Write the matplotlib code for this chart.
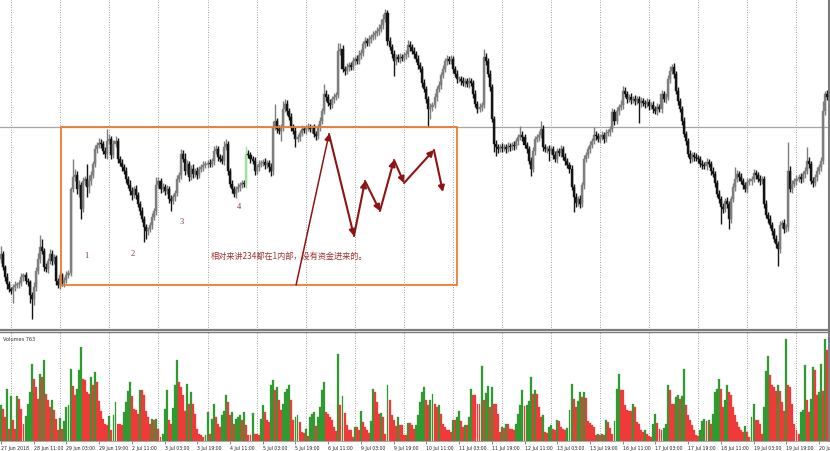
import matplotlib
matplotlib.use('Agg')
import matplotlib.pyplot as plt
from matplotlib import patches, font_manager

# H1 candles, price in points (higher = higher price)
first_open = 140
closes = [
    145, 132, 122, 115, 110, 108, 112, 114, 115, 116, 122, 124, 118, 117, 104, 100, 112, 128, 140, 152,
    148, 132, 130, 138, 145, 138, 142, 118, 114, 124, 116, 119, 124, 126, 210, 222, 224, 210, 214, 190,
    218, 220, 212, 218, 224, 235, 250, 254, 256, 255, 248, 245, 258, 260, 244, 255, 258, 240, 236, 232,
    228, 220, 214, 208, 204, 210, 204, 195, 188, 180, 172, 168, 170, 174, 182, 188, 214, 218, 210, 212,
    208, 210, 200, 198, 202, 206, 220, 224, 245, 240, 228, 235, 222, 230, 225, 228, 224, 230, 232, 234,
    235, 236, 235, 238, 248, 250, 242, 240, 238, 252, 255, 228, 215, 210, 205, 210, 212, 214, 216, 215,
    245, 244, 240, 238, 228, 232, 235, 236, 237, 234, 236, 232, 228, 272, 278, 270, 268, 272, 290, 295,
    288, 282, 272, 268, 260, 262, 266, 270, 269, 271, 272, 270, 271, 265, 263, 272, 278, 288, 305, 302,
    296, 294, 300, 302, 304, 348, 350, 330, 328, 332, 334, 332, 338, 340, 338, 344, 346, 355, 358, 356,
    360, 362, 364, 366, 368, 370, 374, 380, 386, 358, 352, 345, 338, 342, 340, 342, 341, 344, 345, 354,
    352, 348, 345, 340, 334, 330, 316, 310, 300, 290, 292, 294, 302, 310, 314, 324, 330, 338, 340, 338,
    340, 330, 325, 320, 320, 318, 316, 318, 315, 318, 316, 305, 295, 290, 292, 294, 342, 338, 325, 312,
    280, 255, 252, 250, 252, 251, 252, 250, 253, 252, 254, 253, 258, 262, 264, 262, 254, 250, 238, 230,
    248, 260, 262, 264, 270, 252, 250, 250, 248, 250, 244, 240, 248, 246, 250, 242, 238, 234, 230, 212,
    202, 196, 200, 195, 214, 240, 244, 250, 254, 258, 264, 263, 260, 262, 264, 260, 266, 267, 270, 287,
    278, 288, 292, 294, 308, 305, 300, 302, 299, 300, 298, 300, 296, 298, 296, 295, 297, 293, 294, 290,
    288, 292, 290, 305, 300, 302, 320, 328, 332, 325, 308, 298, 290, 278, 265, 258, 245, 240, 244, 242,
    241, 240, 235, 234, 233, 237, 235, 228, 225, 216, 205, 200, 192, 190, 198, 195, 180, 200, 212, 220,
    225, 222, 218, 214, 210, 217, 218, 220, 226, 224, 220, 218, 220, 195, 184, 180, 174, 168, 160, 155,
    150, 174, 176, 170, 172, 228, 210, 215, 218, 220, 222, 220, 225, 228, 238, 235, 218, 216, 222, 228,
    232, 238, 288, 305, 302,
]
wick_up = [
    8, 3, 2, 4, 3, 2, 3, 4, 2, 3, 4, 2, 3, 3, 2, 3, 5, 4, 6, 12,
    8, 3, 4, 3, 5, 4, 3, 2, 3, 4, 2, 3, 4, 3, 2, 18, 6, 4, 5, 3,
    4, 3, 15, 6, 4, 3, 4, 3, 5, 4, 3, 4, 12, 5, 3, 4, 5, 3, 3, 4,
    3, 4, 3, 5, 4, 3, 4, 3, 3, 4, 3, 3, 2, 3, 4, 3, 8, 4, 3, 4,
    3, 4, 3, 4, 3, 3, 4, 3, 5, 4, 6, 4, 3, 4, 5, 3, 4, 3, 3, 4,
    3, 3, 4, 3, 5, 4, 3, 3, 4, 6, 5, 3, 3, 4, 3, 3, 4, 3, 3, 3,
    8, 4, 3, 3, 4, 3, 4, 3, 3, 4, 3, 3, 4, 6, 17, 3, 4, 3, 8, 5,
    4, 3, 4, 3, 4, 3, 3, 4, 3, 3, 4, 3, 3, 4, 3, 3, 4, 3, 10, 4,
    3, 4, 3, 4, 3, 8, 6, 4, 3, 4, 3, 3, 4, 3, 4, 5, 4, 3, 4, 3,
    4, 3, 4, 3, 4, 5, 6, 5, 4, 3, 4, 3, 4, 3, 3, 4, 3, 3, 4, 5,
    4, 3, 4, 3, 4, 3, 3, 4, 3, 3, 4, 3, 4, 3, 4, 3, 4, 3, 4, 3,
    4, 3, 3, 4, 3, 3, 4, 3, 3, 4, 3, 3, 4, 3, 4, 3, 8, 4, 3, 4,
    3, 3, 4, 3, 3, 4, 3, 3, 4, 3, 3, 4, 3, 3, 9, 4, 3, 3, 3, 4,
    4, 3, 3, 4, 8, 4, 3, 3, 4, 3, 3, 4, 3, 3, 4, 3, 4, 3, 3, 4,
    3, 4, 3, 4, 3, 4, 3, 3, 4, 3, 8, 4, 3, 3, 4, 3, 4, 3, 3, 4,
    3, 4, 3, 5, 5, 4, 3, 3, 4, 3, 4, 3, 3, 4, 3, 3, 4, 3, 3, 4,
    3, 4, 3, 4, 3, 4, 4, 5, 3, 4, 3, 4, 3, 3, 4, 3, 3, 4, 3, 3,
    4, 3, 3, 4, 3, 4, 3, 3, 4, 3, 3, 4, 3, 4, 3, 4, 3, 3, 4, 12,
    4, 3, 4, 3, 3, 4, 3, 3, 4, 3, 3, 4, 3, 3, 4, 3, 4, 3, 3, 4,
    3, 4, 3, 4, 3, 29, 5, 4, 3, 4, 3, 4, 3, 4, 14, 4, 3, 4, 3, 4,
    3, 4, 10, 3, 4,
]
wick_dn = [
    4, 3, 4, 5, 3, 3, 12, 4, 3, 4, 3, 4, 3, 4, 8, 20, 6, 4, 3, 4,
    3, 4, 3, 4, 3, 4, 3, 4, 3, 4, 3, 4, 3, 3, 3, 3, 4, 5, 8, 10,
    3, 4, 10, 6, 4, 3, 3, 4, 3, 4, 3, 4, 5, 3, 4, 3, 3, 4, 3, 4,
    3, 4, 3, 4, 5, 3, 4, 3, 4, 3, 15, 8, 4, 3, 4, 3, 4, 3, 4, 3,
    4, 3, 4, 10, 3, 4, 3, 3, 4, 3, 4, 3, 4, 3, 4, 3, 4, 3, 3, 4,
    3, 4, 3, 3, 4, 3, 4, 3, 3, 4, 3, 4, 3, 4, 3, 4, 3, 4, 3, 3,
    4, 3, 4, 3, 4, 3, 4, 3, 3, 4, 3, 5, 5, 4, 3, 4, 3, 10, 4, 3,
    4, 3, 4, 3, 8, 3, 4, 3, 3, 4, 3, 3, 4, 3, 4, 3, 4, 3, 3, 4,
    3, 4, 3, 4, 3, 3, 4, 3, 4, 3, 4, 3, 3, 4, 3, 3, 4, 3, 4, 3,
    3, 4, 3, 4, 3, 4, 3, 4, 3, 4, 3, 4, 15, 4, 3, 4, 3, 3, 4, 3,
    4, 3, 4, 3, 4, 3, 4, 3, 4, 18, 10, 4, 3, 4, 3, 4, 3, 3, 4, 3,
    3, 4, 3, 4, 3, 4, 3, 4, 3, 4, 3, 4, 3, 4, 3, 4, 3, 4, 3, 4,
    3, 8, 9, 4, 3, 4, 3, 4, 3, 4, 3, 4, 3, 4, 3, 4, 3, 4, 3, 7,
    3, 4, 3, 4, 3, 4, 3, 4, 10, 3, 4, 3, 4, 3, 4, 3, 4, 3, 4, 3,
    15, 4, 3, 4, 3, 4, 3, 3, 4, 3, 3, 4, 3, 4, 3, 4, 3, 3, 4, 3,
    4, 3, 4, 3, 4, 3, 4, 3, 4, 3, 4, 3, 20, 4, 3, 4, 3, 4, 3, 4,
    3, 4, 3, 4, 3, 4, 3, 4, 3, 4, 3, 4, 3, 4, 3, 4, 3, 4, 3, 4,
    3, 4, 3, 4, 3, 4, 3, 4, 3, 4, 3, 4, 17, 4, 3, 4, 10, 4, 3, 4,
    3, 4, 3, 4, 3, 4, 3, 4, 3, 4, 3, 4, 3, 4, 3, 4, 3, 4, 3, 4,
    17, 4, 3, 4, 3, 4, 3, 4, 3, 4, 3, 4, 3, 4, 3, 4, 3, 4, 3, 4,
    3, 4, 3, 4, 3,
]
volumes = [
    36, 32, 24, 52, 12, 45, 21, 12, 45, 42, 32, 17, 25, 37, 49, 77, 62, 54, 42, 67,
    64, 81, 47, 41, 34, 41, 31, 22, 11, 23, 12, 20, 34, 36, 72, 55, 46, 52, 71, 94,
    62, 61, 49, 47, 64, 56, 69, 59, 40, 30, 22, 17, 16, 25, 11, 26, 39, 17, 17, 16,
    29, 39, 50, 59, 45, 32, 31, 27, 51, 51, 46, 30, 24, 17, 22, 21, 22, 12, 4, 7,
    32, 51, 21, 17, 33, 56, 81, 59, 54, 46, 30, 57, 37, 49, 37, 27, 12, 7, 6, 4,
    6, 29, 7, 22, 37, 24, 17, 14, 26, 30, 46, 39, 26, 29, 17, 22, 24, 26, 21, 29,
    16, 6, 6, 28, 7, 7, 6, 22, 36, 29, 21, 19, 56, 61, 51, 54, 41, 31, 37, 49,
    52, 56, 41, 21, 24, 26, 19, 9, 8, 12, 5, 24, 27, 29, 15, 24, 34, 51, 59, 29,
    27, 24, 21, 14, 10, 87, 36, 45, 28, 16, 11, 11, 4, 14, 14, 11, 30, 19, 14, 11,
    8, 20, 52, 49, 39, 27, 28, 24, 7, 56, 41, 26, 21, 15, 24, 16, 16, 6, 6, 18,
    18, 16, 12, 16, 26, 39, 49, 54, 41, 36, 41, 47, 37, 34, 36, 27, 17, 14, 11, 11,
    9, 21, 21, 24, 30, 20, 14, 16, 16, 24, 52, 46, 46, 37, 37, 75, 41, 48, 55, 34,
    54, 37, 37, 27, 9, 14, 13, 17, 17, 12, 12, 11, 17, 27, 36, 51, 35, 36, 40, 64,
    47, 51, 47, 34, 24, 26, 9, 8, 14, 16, 12, 11, 21, 20, 14, 12, 11, 13, 31, 57,
    42, 34, 40, 49, 44, 49, 43, 20, 18, 16, 14, 6, 7, 6, 7, 6, 21, 19, 13, 7,
    20, 52, 67, 51, 51, 36, 31, 30, 30, 37, 34, 19, 17, 11, 9, 11, 7, 5, 4, 17,
    27, 18, 12, 11, 13, 17, 56, 51, 37, 37, 44, 46, 42, 45, 72, 36, 26, 21, 16, 11,
    6, 5, 11, 20, 22, 20, 21, 17, 27, 49, 52, 62, 52, 34, 41, 56, 49, 46, 34, 26,
    19, 14, 11, 9, 15, 9, 4, 24, 37, 21, 21, 17, 7, 34, 70, 85, 66, 56, 54, 50,
    56, 50, 39, 30, 102, 56, 54, 37, 17, 11, 7, 29, 31, 76, 41, 29, 42, 74, 71, 46,
    49, 77, 50, 102, 91,
]
time_labels = [
    '27 Jun 2018', '28 Jun 11:00', '29 Jun 03:00', '29 Jun 19:00', '2 Jul 11:00',
    '3 Jul 03:00', '3 Jul 19:00', '4 Jul 11:00', '5 Jul 03:00', '5 Jul 19:00',
    '6 Jul 11:00', '9 Jul 03:00', '9 Jul 19:00', '10 Jul 11:00', '11 Jul 03:00',
    '11 Jul 19:00', '12 Jul 11:00', '13 Jul 03:00', '13 Jul 19:00', '16 Jul 11:00',
    '17 Jul 03:00', '17 Jul 19:00', '18 Jul 11:00', '19 Jul 03:00', '19 Jul 19:00',
    '20 Jul',
]
label_step = 16
grid_first, grid_step = 5, 24
highlight_bar = 120

# drawn objects (in bar index / price points)
box_bars = (29.3, 223.0)
box_prices = (114, 272)
level = 272
path_bars = [144.3, 160.4, 172.6, 178.0, 185.3, 192.2, 197.1, 211.7, 216.1]
path_prices = [114, 265, 163, 218, 188, 239, 216, 249, 207]
wave_names = ['1', '2', '3', '4']
wave_bars = [41.6, 64.5, 88.5, 116.4]
wave_prices = [144, 146, 178, 193]
note = '相对来讲234都在1内部，没有资金进来的。'
note_at = (102.7, 144)

n = len(closes)
idx = list(range(n))
opens = [first_open] + closes[:-1]
highs = [max(o, c) + u for o, c, u in zip(opens, closes, wick_up)]
lows = [min(o, c) - d for o, c, d in zip(opens, closes, wick_dn)]
bull = [c >= o for o, c in zip(opens, closes)]
body_col = ['#7e7e7e' if b else '#141414' for b in bull]
body_col[highlight_bar] = '#9ee09e'
body_bot = [min(o, c) for o, c in zip(opens, closes)]
body_h = [max(abs(c - o), 1.2) for o, c in zip(opens, closes)]

vol_col = ['#2f9a2f']
for i in range(1, n):
    vol_col.append('#2f9a2f' if volumes[i] > volumes[i - 1] else '#f03a3a')

names = {f.name for f in font_manager.fontManager.ttflist}
tick_font = 'Liberation Sans Narrow' if 'Liberation Sans Narrow' in names else 'DejaVu Sans'
tick_size = 4.0 if tick_font == 'Liberation Sans Narrow' else 3.3

fig = plt.figure(figsize=(8.3, 4.52), dpi=100)
fig.patch.set_facecolor('white')
ax = fig.add_axes([0, 0.2677, 0.9988, 0.7323])
axv = fig.add_axes([0, 0.0221, 0.9988, 0.2412])
xlim = (-0.49, 404.9)

# price pane
for g in range(grid_first, n, grid_step):
    ax.axvline(g, color='#808080', lw=0.6, ls=(0, (1, 2)), zorder=0)
    axv.axvline(g, color='#808080', lw=0.6, ls=(0, (1, 2)), zorder=0)
ax.axhline(level, color='#a6a6a6', lw=0.9, zorder=1)
ax.vlines(idx, lows, highs, colors=body_col, lw=1.0, zorder=2)
ax.bar(idx, body_h, bottom=body_bot, width=1.0, color=body_col, edgecolor=body_col,
       linewidth=0.3, zorder=3)

ax.add_patch(patches.Rectangle((box_bars[0], box_prices[0]), box_bars[1] - box_bars[0],
                               box_prices[1] - box_prices[0], fill=False,
                               ec='#f07b2e', lw=1.3, zorder=4))

for k in range(len(path_bars) - 1):
    ax.annotate('', xy=(path_bars[k + 1], path_prices[k + 1]),
                xytext=(path_bars[k], path_prices[k]),
                arrowprops=dict(arrowstyle='-|>,head_length=0.35,head_width=0.18',
                                color='#8e1414', lw=1.1 if k == 0 else 1.5,
                                shrinkA=0, shrinkB=0), zorder=5)

for name, bx, py in zip(wave_names, wave_bars, wave_prices):
    ax.text(bx, py, name, fontsize=6, color='#7a3558', ha='center', va='center',
            family=['Liberation Serif', 'DejaVu Serif'], zorder=5)
ax.text(note_at[0], note_at[1], note, fontsize=5.9, color='#a03030', ha='left', va='center',
        family=['Noto Sans CJK SC', 'DejaVu Sans'], zorder=5)

ax.set_xlim(*xlim)
ax.set_ylim(69, 400)
ax.set_xticks([])
ax.set_yticks([])
for s in ('top', 'left'):
    ax.spines[s].set_visible(False)
ax.spines['bottom'].set_color('#7c7c7c')
ax.spines['bottom'].set_linewidth(1.6)
ax.spines['right'].set_color('#7c7c7c')
ax.spines['right'].set_linewidth(1.5)

# volume pane
axv.bar(idx, volumes, width=0.95, color=vol_col, edgecolor=vol_col, linewidth=0.2, zorder=2)
axv.set_xlim(*xlim)
axv.set_ylim(0, 109)
axv.set_yticks([])
ticks = list(range(0, n, label_step))
axv.set_xticks(ticks)
axv.set_xticklabels(time_labels[:len(ticks)], ha='left',
                    fontsize=tick_size, family=tick_font, color='#222222')
axv.tick_params(axis='x', length=2, width=0.5, pad=1, color='#555555')
axv.text(0.004, 0.965, 'Volumes 763', transform=axv.transAxes, fontsize=tick_size + 0.3,
         family=tick_font, color='#333333', va='top', ha='left')
axv.spines['left'].set_visible(False)
axv.spines['top'].set_color('#7c7c7c')
axv.spines['top'].set_linewidth(1.0)
axv.spines['bottom'].set_color('#9a9a9a')
axv.spines['bottom'].set_linewidth(0.6)
axv.spines['right'].set_color('#7c7c7c')
axv.spines['right'].set_linewidth(1.5)

fig.savefig('out.png', dpi=100, facecolor='white')
